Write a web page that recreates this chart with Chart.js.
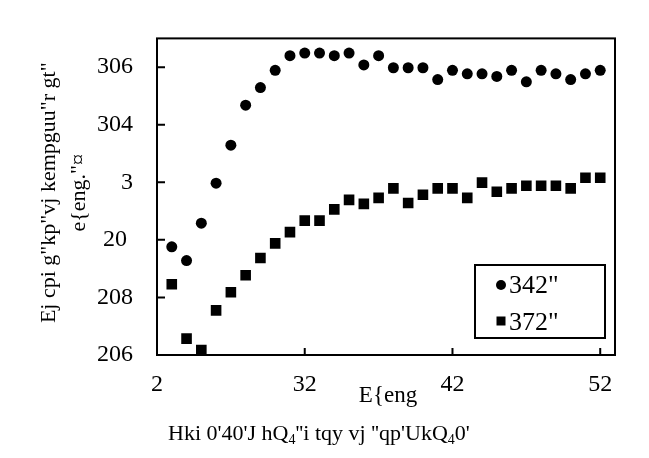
<!DOCTYPE html>
<html>
<head>
<meta charset="utf-8">
<script src="https://cdn.jsdelivr.net/npm/chart.js@4.4.1/dist/chart.umd.min.js"></script>
<style>
  html, body { margin: 0; padding: 0; background: #fff; }
  #wrap { width: 649px; height: 458px; }
</style>
</head>
<body>
<div id="wrap"><canvas id="chart" width="649" height="458"></canvas></div>
<script>
// values
const cycles = [1, 2, 3, 4, 5, 6, 7, 8, 9, 10, 11, 12, 13, 14, 15, 16, 17, 18, 19, 20, 21, 22, 23, 24, 25, 26, 27, 28, 29, 30];
const series120 = [0.776, 0.728, 0.858, 0.997, 1.129, 1.268, 1.329, 1.389, 1.440, 1.449, 1.449, 1.440, 1.449, 1.408, 1.440,
                   1.398, 1.398, 1.398, 1.357, 1.389, 1.377, 1.377, 1.368, 1.389, 1.349, 1.389, 1.377, 1.357, 1.377, 1.389];
const series150 = [0.646, 0.457, 0.417, 0.555, 0.618, 0.677, 0.737, 0.788, 0.827, 0.867, 0.867, 0.906, 0.939, 0.925, 0.946,
                   0.979, 0.928, 0.957, 0.979, 0.979, 0.946, 0.999, 0.967, 0.979, 0.988, 0.988, 0.988, 0.979, 1.016, 1.016];
const seriesNames = ['342"', '372"'];

const xTickValues = [0, 10, 20, 30];
const xTickLabels = ['2', '32', '42', '52'];
const yTickValues = [0.4, 0.6, 0.8, 1.0, 1.2, 1.4];
const yTickLabels = ['206', '208', '20 ', '3', '304', '306'];

const yTitleLines = ['Ej cpi g"kp"vj kempguu"r gt"', 'e{eng."\u00a4'];
const xTitle = 'E{eng';
const captionParts = [['Hki 0\'40\'J hQ', false], ['4', true], ['\'\'i tqy vj \'\'qp\'UkQ', false], ['4', true], ['0\'', false]];

const serif = '"Liberation Serif", "Times New Roman", serif';

function keepTicks(values) {
  return function (scale) {
    scale.ticks = values.map(v => ({ value: v }));
  };
}

const framePlugin = {
  id: 'frame',
  afterDatasetsDraw(chart) {
    const ctx = chart.ctx;
    const a = chart.chartArea;
    const xs = chart.scales.x, ys = chart.scales.y;
    ctx.save();
    ctx.strokeStyle = '#000';
    ctx.lineWidth = 2;
    ctx.strokeRect(a.left, a.top, a.right - a.left, a.bottom - a.top);
    // inward tick marks
    ctx.beginPath();
    xTickValues.forEach(v => {
      const px = xs.getPixelForValue(v);
      ctx.moveTo(px, a.bottom);
      ctx.lineTo(px, a.bottom - 7);
    });
    yTickValues.forEach(v => {
      const py = ys.getPixelForValue(v);
      ctx.moveTo(a.left, py);
      ctx.lineTo(a.left + 8, py);
    });
    ctx.stroke();

    // legend box
    const lx = a.right - 140, ly = a.bottom - 90;
    ctx.lineWidth = 2;
    ctx.strokeRect(lx, ly, 130, 73);
    ctx.fillStyle = '#000';
    ctx.beginPath();
    ctx.arc(lx + 26, ly + 20, 5, 0, Math.PI * 2);
    ctx.fill();
    ctx.fillRect(lx + 21.5, ly + 51.5, 9, 9);
    ctx.font = '26px ' + serif;
    ctx.textBaseline = 'alphabetic';
    ctx.textAlign = 'left';
    ctx.fillText(seriesNames[0], lx + 34, ly + 28);
    ctx.fillText(seriesNames[1], lx + 34, ly + 65);

    // axis titles
    ctx.font = '22px ' + serif;
    ctx.textAlign = 'center';
    const cy = (a.top + a.bottom) / 2 - 4;
    ctx.save();
    ctx.translate(55, cy);
    ctx.rotate(-Math.PI / 2);
    ctx.fillText(yTitleLines[0], 0, 0);
    ctx.fillText(yTitleLines[1], 0, 30);
    ctx.restore();

    ctx.font = '23px ' + serif;
    ctx.fillText(xTitle, (a.left + a.right) / 2 + 2, a.bottom + 47);

    // caption with subscripts
    ctx.textAlign = 'left';
    let cx = 168;
    const base = a.bottom + 85;
    captionParts.forEach(([txt, sub]) => {
      ctx.font = (sub ? '14px ' : '22px ') + serif;
      ctx.fillText(txt, cx, sub ? base + 4 : base);
      cx += ctx.measureText(txt).width;
    });
    ctx.restore();
  }
};

new Chart(document.getElementById('chart'), {
  type: 'scatter',
  data: {
    datasets: [
      {
        label: seriesNames[0],
        data: cycles.map((c, i) => ({ x: c, y: series120[i] })),
        pointStyle: 'circle',
        pointRadius: 5.5,
        backgroundColor: '#000',
        borderColor: '#000',
        borderWidth: 0,
      },
      {
        label: seriesNames[1],
        data: cycles.map((c, i) => ({ x: c, y: series150[i] })),
        pointStyle: 'rect',
        pointRadius: 7.5,
        backgroundColor: '#000',
        borderColor: '#000',
        borderWidth: 0,
      },
    ],
  },
  options: {
    responsive: false,
    animation: false,
    devicePixelRatio: 1,
    layout: { padding: { left: 0, top: 32, right: 34, bottom: 0 } },
    scales: {
      x: {
        type: 'linear',
        min: 0,
        max: 31,
        afterBuildTicks: keepTicks(xTickValues),
        afterFit(scale) { scale.height = 103; },
        grid: { display: false, drawTicks: false },
        border: { display: false },
        ticks: {
          padding: 15,
          color: '#000',
          font: { family: serif, size: 24 },
          maxRotation: 0,
          callback: (v) => xTickLabels[xTickValues.indexOf(v)],
        },
      },
      y: {
        type: 'linear',
        min: 0.4,
        max: 1.5,
        afterBuildTicks: keepTicks(yTickValues),
        afterFit(scale) { scale.width = 157; },
        grid: { display: false, drawTicks: false },
        border: { display: false },
        ticks: {
          padding: 24,
          color: '#000',
          font: { family: serif, size: 24 },
          callback: (v) => yTickLabels[yTickValues.findIndex(t => Math.abs(t - v) < 1e-9)],
        },
      },
    },
    plugins: {
      legend: { display: false },
      tooltip: { enabled: false },
    },
  },
  plugins: [framePlugin],
});
</script>
</body>
</html>
